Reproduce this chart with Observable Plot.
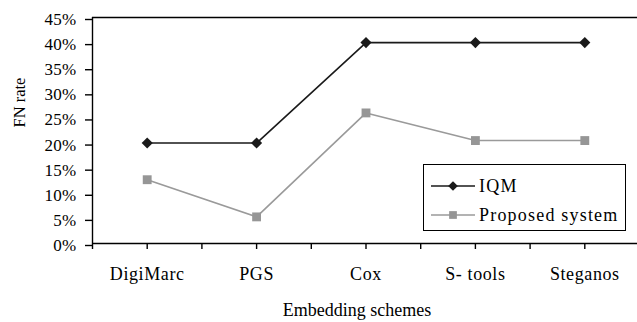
<!DOCTYPE html>
<html><head><meta charset="utf-8">
<script src="https://cdn.jsdelivr.net/npm/d3@7"></script>
<script src="https://cdn.jsdelivr.net/npm/@observablehq/plot@0.6"></script>
<style>
body{margin:0;background:#fff;}
#wrap{position:relative;width:637px;height:322px;overflow:hidden;font-family:"Liberation Serif","Times New Roman",serif;background:#fff;}
#wrap svg.plot-layer{position:absolute;left:0;top:0;background:transparent;}
#legend{position:absolute;left:423px;top:164px;width:201px;height:65px;border:1.5px solid #000;background:#fff;}
#legend .row{position:absolute;left:0;height:28px;width:200px;}
#legend .row svg{position:absolute;left:0;top:0;}
#legend .row span{position:absolute;left:55px;top:3px;font-size:18px;letter-spacing:1.2px;line-height:22px;white-space:nowrap;color:#000;}
</style></head><body><div id="wrap"></div>
<script>
const schemes = ["DigiMarc", "PGS", "Cox", "S- tools", "Steganos"];
const iqm = [0.20, 0.20, 0.40, 0.40, 0.40];
const proposed = [0.127, 0.053, 0.26, 0.205, 0.205];
const yTicks = [0, 0.05, 0.10, 0.15, 0.20, 0.25, 0.30, 0.35, 0.40, 0.45];
const seriesNames = ["IQM", "Proposed system"];
const xTitle = "Embedding schemes";
const yTitle = "FN rate";

const iqmRows = schemes.map((s, i) => ({i, s, v: iqm[i]}));
const propRows = schemes.map((s, i) => ({i, s, v: proposed[i]}));
const xTicks = d3.range(0, schemes.length + 0.01, 0.5);
const xCenters = schemes.map((s, i) => i + 0.5);

const font = "Liberation Serif";
const wrap = document.getElementById("wrap");

function styleText(svg, rules) {
  d3.select(svg).selectAll("text").attr("font-family", font).style("font-family", font);
  for (const [label, st] of Object.entries(rules)) {
    d3.select(svg).selectAll(`g[aria-label="${label}"] text`)
      .style("font-size", st.size + "px").attr("font-size", st.size)
      .style("letter-spacing", st.ls);
  }
}

const main = Plot.plot({
  width: 637, height: 322,
  marginTop: 17, marginBottom: 79, marginLeft: 92, marginRight: -2,
  style: {background: "transparent", color: "#000"},
  x: {type: "linear", domain: [0, schemes.length]},
  y: {domain: [0, 0.45]},
  marks: [
    Plot.ruleY([0.45], {stroke: "#000", strokeWidth: 1.4}),
    Plot.ruleY([0], {stroke: "#000", strokeWidth: 1.4}),
    Plot.ruleX([0], {stroke: "#000", strokeWidth: 1.4}),
    Plot.axisX({ticks: xTicks, tickFormat: () => "", tickSize: 6, strokeWidth: 1.4, label: null}),
    Plot.axisX({ticks: xCenters, tickFormat: d => schemes[Math.floor(d)], tickSize: 0, tickPadding: 24, label: null}),
    Plot.axisY({ticks: yTicks, tickFormat: d3.format(".0%"), tickSize: 7, tickPadding: 9, strokeWidth: 1.4,
      dy: 2, label: null}),
    Plot.text([xTitle], {frameAnchor: "bottom", dx: -9, dy: 72, fill: "#000", fontSize: 18}),
    Plot.text([yTitle], {frameAnchor: "left", dx: -73, dy: -3, rotate: -90, fill: "#000", fontSize: 16.5}),
    Plot.line(propRows, {x: d => d.i + 0.5, y: "v", stroke: "#9a9a9a", strokeWidth: 1.6}),
    Plot.dot(propRows, {x: d => d.i + 0.5, y: "v", symbol: "square", r: 5, fill: "#969696", stroke: "none"}),
    Plot.line(iqmRows, {x: d => d.i + 0.5, y: "v", stroke: "#1a1a1a", strokeWidth: 1.6}),
    Plot.dot(iqmRows, {x: d => d.i + 0.5, y: "v", symbol: "diamond2", r: 5, fill: "#1a1a1a", stroke: "none"})
  ]
});
main.classList.add("plot-layer");
styleText(main, {
  "y-axis tick label": {size: 17, ls: "0.3px"},
  "x-axis tick label": {size: 18, ls: "0.6px"}
});
wrap.appendChild(main);

// legend
const legend = document.createElement("div");
legend.id = "legend";
const specs = [
  {name: seriesNames[0], color: "#1a1a1a", shape: "diamond", top: 7},
  {name: seriesNames[1], color: "#9a9a9a", shape: "square", top: 36}
];
for (const sp of specs) {
  const row = document.createElement("div");
  row.className = "row";
  row.style.top = sp.top + "px";
  const svg = d3.create("svg").attr("width", 55).attr("height", 28);
  svg.append("line").attr("x1", 7).attr("x2", 51).attr("y1", 14).attr("y2", 14)
    .attr("stroke", sp.color).attr("stroke-width", 1.6);
  svg.append("path").attr("transform", "translate(29,14)")
    .attr("d", d3.symbol(sp.shape === "diamond" ? d3.symbolDiamond2 : d3.symbolSquare, 60)())
    .attr("fill", sp.shape === "diamond" ? "#1a1a1a" : "#969696");
  row.appendChild(svg.node());
  const t = document.createElement("span");
  t.textContent = sp.name;
  row.appendChild(t);
  legend.appendChild(row);
}
wrap.appendChild(legend);
</script>
</body></html>
